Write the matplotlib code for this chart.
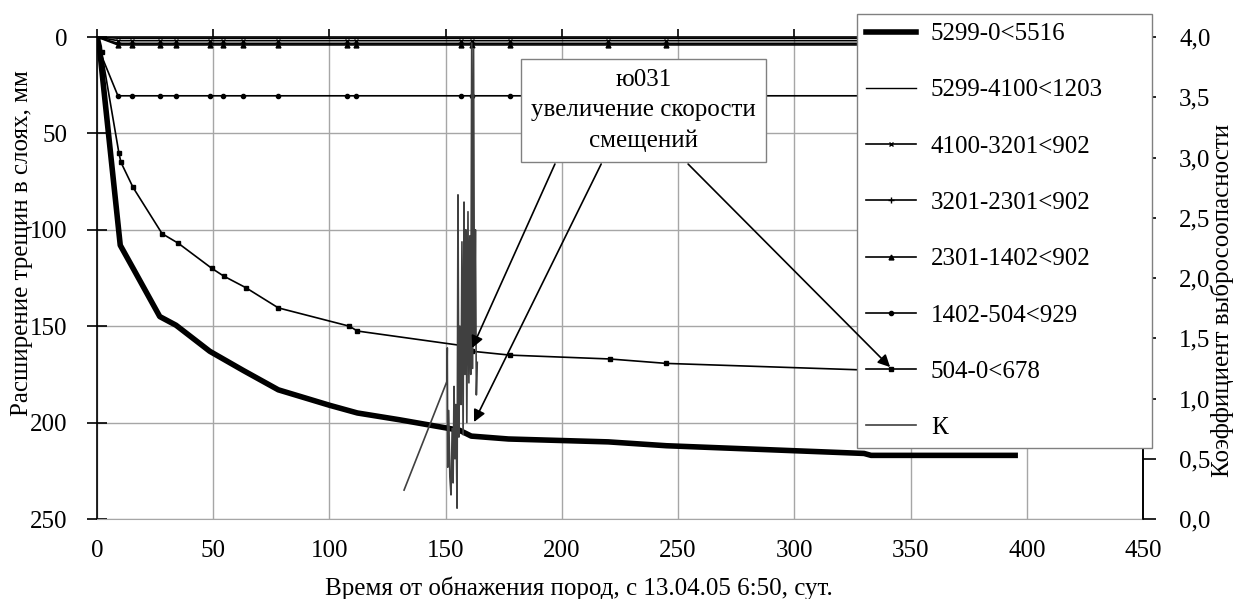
import matplotlib
matplotlib.use("Agg")
from matplotlib import pyplot as plt
from matplotlib.ticker import FuncFormatter
import numpy as np

plt.rcParams['font.family'] = ['Liberation Serif', 'DejaVu Serif']
plt.rcParams['font.size'] = 18

# crack widening in layers, mm (left axis, reversed)
thick_days = [0, 1, 10, 16, 27, 34, 48.5, 63, 78, 100, 112, 130, 156, 161, 177, 220, 245, 330, 333, 395]
thick_mm = [0, 5, 108, 121, 145, 149.5, 163, 173, 183, 191, 195, 198.5, 204, 207, 208.5, 210, 212, 216, 217, 217]

s504_days = [0, 2, 9.4, 10.3, 15.5, 28, 35, 49.4, 54.5, 64, 78, 108.6, 112, 156.7, 161.4, 177.7, 220.6, 245, 330, 393]
s504_mm = [0, 7.8, 60, 65, 78, 102, 107, 120, 124, 130, 140.5, 150, 152.5, 160, 163, 165, 167, 169.3, 172.7, 173.5]

top_days = [0, 9, 15, 27, 34, 48.5, 54, 63, 77.7, 107.7, 111.5, 156.5, 161.4, 177.7, 220, 245, 330, 393]
s1402_mm = [4, 30.5, 30.5, 30.5, 30.5, 30.5, 30.5, 30.5, 30.5, 30.5, 30.5, 30.5, 30.5, 30.5, 30.5, 30.5, 30.5, 30.5]
s2301_mm = [0, 4.1, 4.1, 4.1, 4.1, 4.1, 4.1, 4.1, 4.1, 4.1, 4.1, 4.1, 4.1, 4.1, 4.1, 4.1, 4.1, 4.1]
s3201_mm = [0, 3.3, 3.3, 3.3, 3.3, 3.3, 3.3, 3.3, 3.3, 3.3, 3.3, 3.3, 3.3, 3.3, 3.3, 3.3, 3.3, 3.3]
s4100_mm = [0, 1.9, 1.9, 1.9, 1.9, 1.9, 1.9, 1.9, 1.9, 1.9, 1.9, 1.9, 1.9, 1.9, 1.9, 1.9, 1.9, 1.9]
s5299_mm = [0, 0.7, 0.7, 0.7, 0.7, 0.7, 0.7, 0.7, 0.7, 0.7, 0.7, 0.7, 0.7, 0.7, 0.7, 0.7, 0.7, 0.7]

# outburst hazard coefficient (right axis)
k_days = [132.1, 150.5, 150.7, 150.9, 151.3, 151.8, 152.3, 152.8, 153.2, 153.6, 154.0, 154.4, 154.9,
          155.3, 155.7, 156.1, 156.6, 157.0, 157.5, 157.9, 158.3, 158.7, 159.1, 159.6, 160.0, 160.4,
          160.8, 161.2, 161.6, 162.0, 162.4, 162.8, 163.2, 163.6]
k_vals = [0.24, 1.14, 1.42, 0.43, 0.90, 0.35, 0.20, 0.75, 0.30, 1.10, 0.50, 0.95, 0.09,
          2.69, 0.68, 1.60, 0.95, 2.30, 0.70, 2.63, 1.20, 2.40, 0.80, 2.55, 1.13, 2.35,
          1.20, 3.95, 1.25, 3.90, 1.50, 2.40, 1.03, 1.30]

labels = ['5299-0<5516', '5299-4100<1203', '4100-3201<902', '3201-2301<902',
          '2301-1402<902', '1402-504<929', '504-0<678', 'К']

# callout: box centre and arrow start/end points (days, mm)
note_text = 'ю031\nувеличение скорости\nсмещений'
note_xy = (235, 38.1)
arrow_from = [(197, 65.9), (216.9, 65.9), (254.3, 65.9)]
arrow_to = [(161.4, 161.3), (162.2, 199.7), (341.2, 171.2)]

fig = plt.figure(figsize=(12.37, 5.99), dpi=100)
ax = fig.add_axes([97 / 1237, 1 - 519 / 599, 1046 / 1237, 482 / 599])

ax.set_xlim(0, 450)
ax.set_ylim(250, 0)
ax.set_xticks(range(0, 451, 50))
ax.set_yticks(range(0, 251, 50))
ax.grid(True, color='#a6a6a6', lw=1)
ax.set_axisbelow(True)

ax.tick_params(axis='x', top=True, bottom=False, labeltop=False, labelbottom=True,
               direction='out', length=6, width=1.2, pad=9)
ax.tick_params(axis='y', direction='inout', length=14, width=1.2, pad=14)
ax.spines['bottom'].set_color('#a6a6a6')
for s in ['left', 'top', 'right']:
    ax.spines[s].set_linewidth(1.2)

h = []
h += ax.plot(thick_days, thick_mm, color='black', lw=4)
h += ax.plot(top_days, s5299_mm, color='black', lw=1)
h += ax.plot(top_days, s4100_mm, color='black', lw=1.2, marker='x', ms=3, mew=1)
h += ax.plot(top_days, s3201_mm, color='black', lw=1.2, marker='+', ms=4, mew=1)
h += ax.plot(top_days, s2301_mm, color='black', lw=1.2, marker='^', ms=3.5)
h += ax.plot(top_days, s1402_mm, color='black', lw=1.2, marker='o', ms=3)
h += ax.plot(s504_days, s504_mm, color='black', lw=1.2, marker='s', ms=3)

ax2 = ax.twinx()
ax2.set_ylim(0, 4)
ax2.set_yticks(np.arange(0, 4.01, 0.5))
ax2.yaxis.set_major_formatter(FuncFormatter(lambda v, p: f"{v:.1f}".replace('.', ',')))
ax2.tick_params(axis='y', direction='out', length=9, width=1.2, pad=17)
for s in ['left', 'top', 'bottom']:
    ax2.spines[s].set_visible(False)
ax2.spines['right'].set_linewidth(1.2)

h += ax2.plot(k_days, k_vals, color='#404040', lw=1.2)

leg = ax2.legend(h, labels, loc='upper left',
                 bbox_to_anchor=(857 / 1237, 1 - 450 / 599, 295 / 1237, 436 / 599),
                 bbox_transform=fig.transFigure, mode='expand', borderaxespad=0,
                 fancybox=False, edgecolor='#808080', framealpha=1, numpoints=1,
                 handlelength=2, handletextpad=0.6, labelspacing=1.35, borderpad=0.35)
leg.get_frame().set_linewidth(1)
leg.set_zorder(5)

ax2.text(note_xy[0], note_xy[1], note_text, transform=ax.transData, ha='center', va='center',
         linespacing=1.5, zorder=6,
         bbox=dict(boxstyle='square,pad=0.4', fc='white', ec='#808080', lw=1))

for start, end in zip(arrow_from, arrow_to):
    ax2.annotate('', xy=end, xycoords=ax.transData, xytext=start, textcoords=ax.transData,
                 arrowprops=dict(arrowstyle='-|>', color='black', lw=1.2, mutation_scale=18,
                                 shrinkA=0, shrinkB=0), zorder=7)

fig.text(22 / 1237, 1 - 243 / 599, 'Расширение трещин в слоях, мм', rotation=90,
         ha='center', va='center')
fig.text(1222 / 1237, 1 - 300 / 599, 'Коэффициент выбросоопасности', rotation=90,
         ha='center', va='center')
fig.text(579 / 1237, 1 - 588 / 599, 'Время от обнажения пород, с 13.04.05 6:50, сут.',
         ha='center', va='center')

fig.savefig('out.png', dpi=100)
